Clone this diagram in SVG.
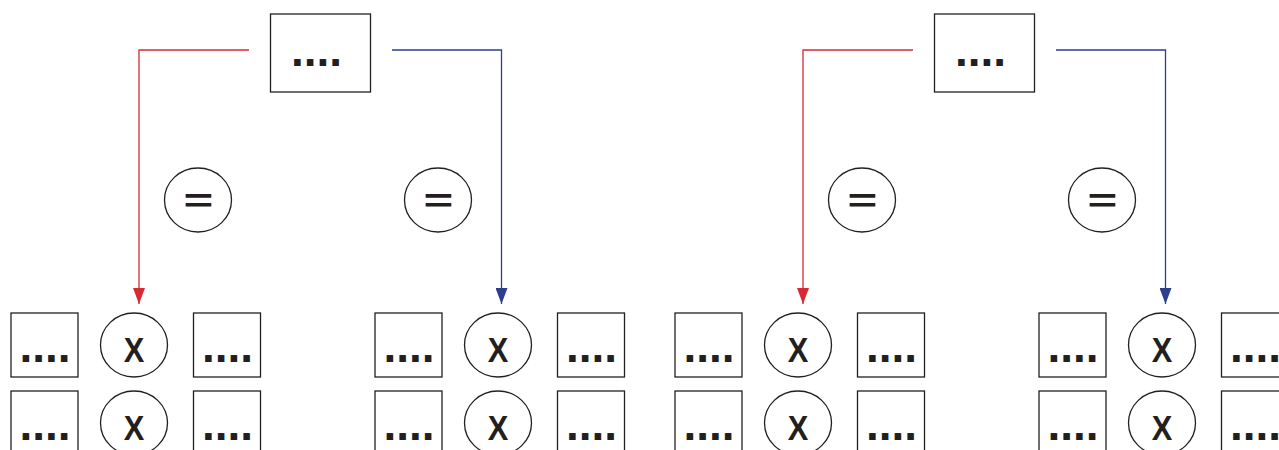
<svg xmlns="http://www.w3.org/2000/svg" width="1279" height="450" viewBox="0 0 1279 450">
<style>
.box{fill:#fff;stroke:#231f20;stroke-width:1.3}
.dots{font-family:"Liberation Sans",Arial,sans-serif;font-weight:bold;font-size:46px;fill:#231f20;text-anchor:middle}
.x{font-family:"Liberation Sans",Arial,sans-serif;font-weight:bold;font-size:35px;fill:#231f20;text-anchor:middle}
.eq{font-family:"Liberation Sans",Arial,sans-serif;font-weight:bold;font-size:34px;fill:#231f20;text-anchor:middle}
.red{fill:none;stroke:#d62b35;stroke-width:1.3}
.blue{fill:none;stroke:#2b3f8e;stroke-width:1.3}
</style>
<defs>
<marker id="ar" viewBox="0 0 16 12" refX="16" refY="6" markerWidth="16" markerHeight="12" markerUnits="userSpaceOnUse" orient="auto"><path d="M0,0 L16,6 L0,12 z" fill="#d62b35"/></marker>
<marker id="ab" viewBox="0 0 16 12" refX="16" refY="6" markerWidth="16" markerHeight="12" markerUnits="userSpaceOnUse" orient="auto"><path d="M0,0 L16,6 L0,12 z" fill="#2b3f8e"/></marker>
<g id="top"><rect class="box" x="270.5" y="14" width="100" height="78"/><text class="dots" x="316.5" y="66">....</text></g>
<g id="eq"><ellipse class="box" cx="198" cy="200" rx="33.5" ry="32"/><text class="eq" transform="translate(198.5,212) scale(1.5,1)">=</text></g>
<g id="bA"><rect class="box" x="11" y="0" width="67" height="64"/><text class="dots" x="45" y="49">....</text></g>
<g id="bX"><ellipse class="box" cx="134" cy="32" rx="33.5" ry="32"/><text class="x" transform="translate(134,49) scale(0.88,1)">X</text></g>
<g id="bB"><rect class="box" x="193.5" y="0" width="67" height="64"/><text class="dots" x="227.5" y="49">....</text></g>
</defs>
<g id="connectors">
<path class="red" d="M249,50 H139 V304" marker-end="url(#ar)"/>
<path class="blue" d="M392,50 H501.5 V304" marker-end="url(#ab)"/>
<path class="red" d="M913,50 H803 V304" marker-end="url(#ar)"/>
<path class="blue" d="M1056,50 H1165.5 V304" marker-end="url(#ab)"/>
</g>
<g id="top-1"><use href="#top"/></g>
<g id="top-2"><use href="#top" x="664"/></g>
<g id="eq-1"><use href="#eq"/></g>
<g id="eq-2"><use href="#eq" x="240"/></g>
<g id="eq-3"><use href="#eq" x="664"/></g>
<g id="eq-4"><use href="#eq" x="904"/></g>
<g id="g1r1a"><use href="#bA" y="313"/></g>
<g id="g1r1x"><use href="#bX" y="313"/></g>
<g id="g1r1b"><use href="#bB" y="313"/></g>
<g id="g1r2a"><use href="#bA" y="391"/></g>
<g id="g1r2x"><use href="#bX" y="391"/></g>
<g id="g1r2b"><use href="#bB" y="391"/></g>
<g id="g2r1a"><use href="#bA" x="364" y="313"/></g>
<g id="g2r1x"><use href="#bX" x="364" y="313"/></g>
<g id="g2r1b"><use href="#bB" x="364" y="313"/></g>
<g id="g2r2a"><use href="#bA" x="364" y="391"/></g>
<g id="g2r2x"><use href="#bX" x="364" y="391"/></g>
<g id="g2r2b"><use href="#bB" x="364" y="391"/></g>
<g id="g3r1a"><use href="#bA" x="664" y="313"/></g>
<g id="g3r1x"><use href="#bX" x="664" y="313"/></g>
<g id="g3r1b"><use href="#bB" x="664" y="313"/></g>
<g id="g3r2a"><use href="#bA" x="664" y="391"/></g>
<g id="g3r2x"><use href="#bX" x="664" y="391"/></g>
<g id="g3r2b"><use href="#bB" x="664" y="391"/></g>
<g id="g4r1a"><use href="#bA" x="1028" y="313"/></g>
<g id="g4r1x"><use href="#bX" x="1028" y="313"/></g>
<g id="g4r1b"><use href="#bB" x="1028" y="313"/></g>
<g id="g4r2a"><use href="#bA" x="1028" y="391"/></g>
<g id="g4r2x"><use href="#bX" x="1028" y="391"/></g>
<g id="g4r2b"><use href="#bB" x="1028" y="391"/></g>
</svg>
